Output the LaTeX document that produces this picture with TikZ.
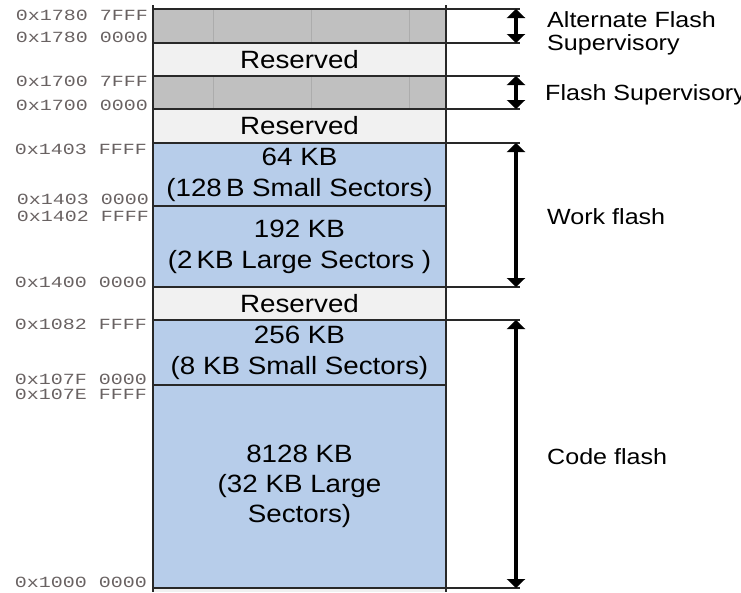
\documentclass[tikz,border=0pt]{standalone}
\usepackage{fontspec}
\setmainfont{Liberation Sans}
\newfontfamily\boxfont{Liberation Sans}[FakeStretch=1.11]
\newfontfamily\lblfont{Liberation Sans}[FakeStretch=1.14]
\newfontfamily\addrfont{Liberation Mono}[FakeStretch=1.29]
\usetikzlibrary{arrows.meta}
\definecolor{memblue}{RGB}{183,205,234}
\definecolor{resgray}{RGB}{241,241,241}
\definecolor{supgray}{RGB}{192,192,192}
\definecolor{supline}{RGB}{172,172,172}
\definecolor{addrcol}{RGB}{105,98,98}
\definecolor{edgecol}{RGB}{40,40,40}
\begin{document}
\begin{tikzpicture}[x=1pt,y=-1pt,
  boxline/.style={draw=edgecol,line width=1.6pt},
  boxtext/.style={font=\boxfont\fontsize{25}{31}\selectfont,align=center,inner sep=0pt},
  addr/.style={font=\addrfont\fontsize{15.5}{15.5}\selectfont,text=addrcol,anchor=east,inner sep=0pt},
  lbl/.style={font=\lblfont\fontsize{22}{23}\selectfont,anchor=base west,inner sep=0pt},
  span/.style={draw=black,line width=3.2pt,{Triangle[width=18pt,length=9pt]}-{Triangle[width=18pt,length=9pt]}}
]
\useasboundingbox (0,0) rectangle (741,592);
% fills
\fill[supgray] (153,9) rectangle (446,43);
\fill[resgray] (153,43) rectangle (446,76);
\fill[supgray] (153,76) rectangle (446,109);
\fill[resgray] (153,109) rectangle (446,143);
\fill[memblue] (153,143) rectangle (446,287);
\fill[resgray] (153,287) rectangle (446,320);
\fill[memblue] (153,320) rectangle (446,588);
\fill[resgray] (153,588) rectangle (446,592);
% texture lines in supervisory blocks
\foreach \xx in {213,311,409}{
  \draw[supline,line width=0.6pt] (\xx,9) -- (\xx,43);
  \draw[supline,line width=0.6pt] (\xx,76) -- (\xx,109);
}
% horizontal boundaries
\foreach \yy in {9,43,76,109,143,287,320,588}{
  \draw[boxline] (153,\yy) -- (520,\yy);
}
\draw[boxline] (153,206) -- (446,206);
\draw[boxline] (153,385) -- (446,385);
% vertical edges
\draw[boxline] (153,5) -- (153,592);
\draw[boxline] (446,5) -- (446,592);
% block texts
\node[boxtext] (res1) at (299.5,59.5) {Reserved};
\node[boxtext] (res2) at (299.5,126) {Reserved};
\node[boxtext] (w64) at (299.5,174.5) {64 KB\\(128\,B Small Sectors)};
\node[boxtext] (w192) at (299.5,246.5) {192 KB\\(2\,KB Large Sectors )};
\node[boxtext] (res3) at (299.5,303.5) {Reserved};
\node[boxtext] (c256) at (299.5,352.5) {256 KB\\(8 KB Small Sectors)};
\node[boxtext,font=\boxfont\fontsize{25}{30}\selectfont] (c8128) at (299.5,486.5) {8128 KB\\(32 KB Large\\Sectors)};
% addresses
\node[addr] (a1) at (148,15.7) {0x1780 7FFF};
\node[addr] (a2) at (148,37.7) {0x1780 0000};
\node[addr] (a3) at (148,81) {0x1700 7FFF};
\node[addr] (a4) at (148,105) {0x1700 0000};
\node[addr] (a5) at (147,149) {0x1403 FFFF};
\node[addr] (a6) at (149,199) {0x1403 0000};
\node[addr] (a7) at (149,216) {0x1402 FFFF};
\node[addr] (a8) at (147,282) {0x1400 0000};
\node[addr] (a9) at (147,324) {0x1082 FFFF};
\node[addr] (a10) at (147,379.5) {0x107F 0000};
\node[addr] (a11) at (147,394.5) {0x107E FFFF};
\node[addr] (a12) at (147,582) {0x1000 0000};
% span arrows
\coordinate (s1t) at (516,9);   \coordinate (s1b) at (516,43);
\coordinate (s2t) at (516,76);  \coordinate (s2b) at (516,109);
\coordinate (s3t) at (516,143); \coordinate (s3b) at (516,287);
\coordinate (s4t) at (516,320); \coordinate (s4b) at (516,588);
\draw[span] (s1t) -- (s1b);
\draw[span] (s2t) -- (s2b);
\draw[span] (s3t) -- (s3b);
\draw[span] (s4t) -- (s4b);
% labels
\node[lbl] (l1) at (547,27) {Alternate Flash};
\node[lbl] (l1b) at (547,50) {Supervisory};
\node[lbl] (l2) at (545,100) {Flash Supervisory};
\node[lbl] (l3) at (547,224) {Work flash};
\node[lbl] (l4) at (547,464) {Code flash};
\end{tikzpicture}
\end{document}
